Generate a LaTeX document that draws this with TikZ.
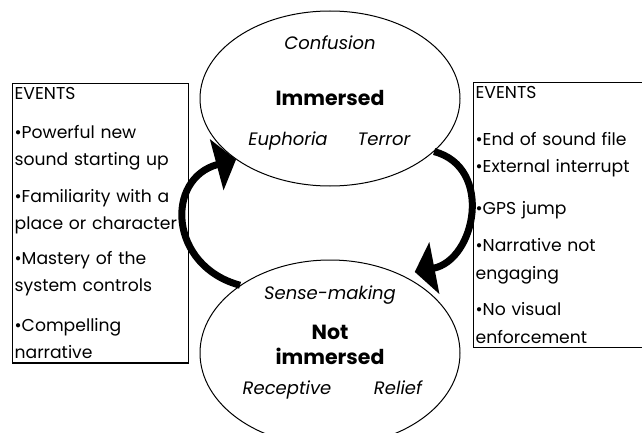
\documentclass[tikz,border=0pt]{standalone}
\usepackage{fontspec}
\setmainfont{Poppins}
\usetikzlibrary{shapes.geometric,arrows.meta,positioning}
\tikzset{
    state/.style = {ellipse,
                    draw=black,
                    line width=1pt,
                    inner sep=0pt},
    title/.style = {align=center,
                    inner sep=0pt,
                    font=\fontsize{20.5}{25}\selectfont\bfseries},
    mood/.style  = {inner sep=0pt,
                    text height=13pt,
                    text depth=4pt,
                    font=\fontsize{18}{21}\selectfont\itshape},
    evbox/.style = {rectangle,
                    draw=black,
                    line width=1.3pt,
                    anchor=north west,
                    align=left,
                    inner xsep=2pt,
                    inner ysep=4pt,
                    font=\fontsize{17.2}{27.5}\selectfont},
    flow/.style  = {line width=7pt,
                    -{Triangle[length=20pt,width=52pt]}}
}
\begin{document}
\begin{tikzpicture}[x=1pt,y=-1pt]
    \useasboundingbox (0,0) rectangle (642,433);
    % the two states
    \node[state, minimum width=260pt, minimum height=175pt] (imm)    at (330,98.5) {};
    \node[state, minimum width=260pt, minimum height=186pt] (notimm) at (330,353)  {};
    \node[title] (immtxt)    at (330,98)  {Immersed};
    \node[title] (notimmtxt) at (330,345) {Not\\immersed};
    \node[mood]  (conf)  at (330,45)  {Confusion};
    \node[mood]  (eup)   at (288,141) {Euphoria};
    \node[mood]  (ter)   at (384,141) {Terror};
    \node[mood]  (sense) at (330,295) {Sense-making};
    \node[mood]  (rec)   at (287,390) {Receptive};
    \node[mood]  (rel)   at (398,390) {Relief};
    % event lists
    \node[evbox, text width=172pt] (inev) at (12,83)
        {EVENTS\\[11pt]
         •Powerful new\\sound starting up\\[9pt]
         •Familiarity with a\\place or character\\[7pt]
         •Mastery of the\\system controls\\[12pt]
         •Compelling\\narrative};
    \node[evbox, text width=200pt] (outev) at (473,82)
        {EVENTS\\[19pt]
         •End of sound file\\[0pt]
         •External interrupt\\[14pt]
         •GPS jump\\[10pt]
         •Narrative not\\engaging\\[9pt]
         •No visual\\enforcement\\[-4pt]};
    % transitions
    \draw[flow] (notimm.143) to[out=165,in=195,looseness=1.5] (imm.213);
    \draw[flow] (imm.333) to[out=-15,in=11,looseness=1.3] ([yshift=10pt]notimm.40);
\end{tikzpicture}
\end{document}
